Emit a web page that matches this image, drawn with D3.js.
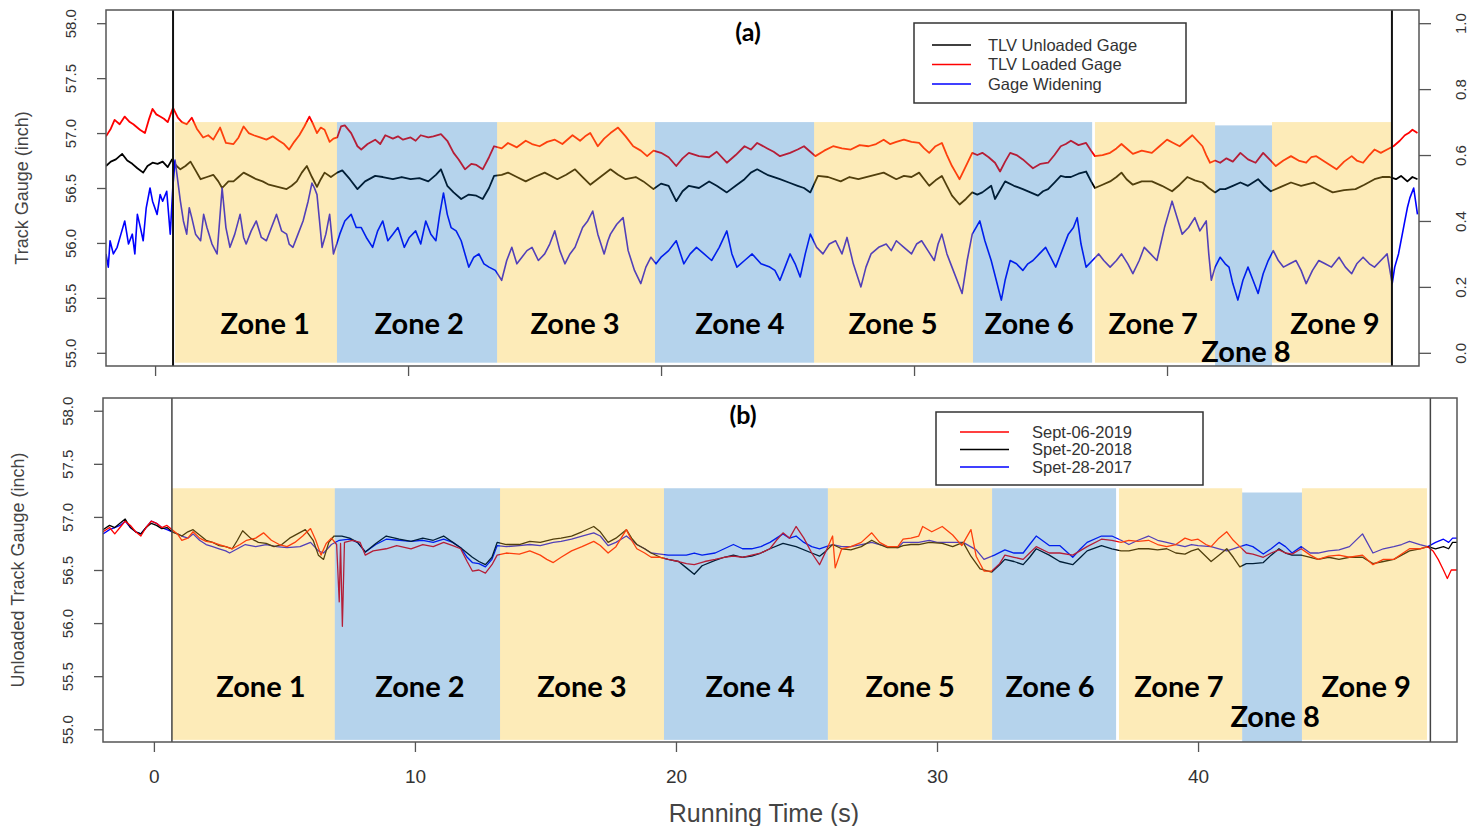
<!DOCTYPE HTML>
<html>
<head>
<meta http-equiv="Content-Type" content="text/html; charset=utf-8">
<title>Track gauge by zone</title>
<style>
	body { margin:0; background:#fff; }
	.tick text { font-family:"Liberation Sans", Arial, sans-serif; fill:#333; }
	.tick line { stroke:#555; stroke-width:1.3; }
	.zoneLabel { font-family:Lato, "Open Sans", sans-serif; font-weight:bold; font-size:29px; text-anchor:middle; fill:#000; }
	.legendText { font-family:"Liberation Sans", Arial, sans-serif; font-size:16.5px; fill:#333; }
	.axisTitle { font-family:"Liberation Sans", Arial, sans-serif; fill:#444; text-anchor:middle; }
	.panelTitle { font-family:Lato, "Open Sans", sans-serif; font-weight:bold; font-size:25px; text-anchor:middle; fill:#000; }
</style>
<script src="https://cdnjs.cloudflare.com/ajax/libs/d3/7.8.5/d3.min.js"></script>
</head>
<body>
<script>
// ---- panel (a) : TLV gauges, [time s, inch] ; widening on right axis [time s, ratio]
var unloadedGage=[[-1.94,56.7],[-1.75,56.74],[-1.55,56.76],[-1.3,56.81],[-1.1,56.75],[-0.9,56.72],[-0.7,56.68],[-0.47,56.64],[-0.3,56.7],[-0.1,56.73],[0.1,56.72],[0.3,56.74],[0.5,56.69],[0.67,56.76],[0.85,56.7],[1.0,56.67],[1.2,56.7],[1.4,56.74],[1.6,56.66],[1.8,56.58],[2.05,56.6],[2.3,56.62],[2.5,56.56],[2.65,56.5],[2.9,56.56],[3.1,56.56],[3.3,56.6],[3.5,56.64],[3.75,56.61],[4.0,56.58],[4.25,56.56],[4.5,56.53],[4.85,56.51],[5.2,56.49],[5.4,56.52],[5.6,56.56],[5.8,56.64],[6.0,56.7],[6.2,56.6],[6.4,56.51],[6.55,56.58],[6.7,56.64],[6.95,56.6],[7.2,56.64],[7.4,56.66],[7.7,56.58],[8.0,56.49],[8.3,56.56],[8.7,56.61],[9.0,56.6],[9.4,56.58],[9.75,56.6],[10.1,56.58],[10.45,56.59],[10.8,56.56],[11.1,56.62],[11.3,56.67],[11.55,56.52],[11.8,56.46],[12.1,56.4],[12.4,56.44],[12.7,56.43],[12.95,56.4],[13.2,56.5],[13.4,56.61],[13.7,56.62],[13.95,56.64],[14.3,56.6],[14.65,56.56],[15.0,56.6],[15.4,56.64],[15.9,56.58],[16.25,56.62],[16.6,56.67],[16.9,56.6],[17.2,56.53],[17.6,56.6],[18.0,56.67],[18.3,56.62],[18.6,56.58],[19.0,56.6],[19.3,56.56],[19.7,56.49],[20.0,56.54],[20.3,56.52],[20.6,56.38],[20.85,56.47],[21.1,56.52],[21.5,56.5],[21.9,56.56],[22.2,56.52],[22.6,56.46],[22.95,56.52],[23.3,56.58],[23.55,56.64],[23.8,56.67],[24.2,56.62],[24.7,56.58],[25.05,56.55],[25.4,56.52],[25.65,56.5],[25.9,56.46],[26.2,56.61],[26.6,56.6],[27.1,56.56],[27.45,56.6],[27.8,56.58],[28.3,56.61],[28.8,56.64],[29.3,56.58],[29.6,56.61],[29.9,56.6],[30.2,56.64],[30.4,56.58],[30.6,56.52],[30.85,56.57],[31.1,56.61],[31.3,56.52],[31.5,56.43],[31.8,56.35],[32.05,56.4],[32.3,56.46],[32.5,56.44],[32.7,56.46],[33.05,56.52],[33.2,56.4],[33.4,56.48],[33.6,56.56],[33.95,56.52],[34.3,56.49],[34.6,56.46],[34.9,56.43],[35.1,56.47],[35.3,56.49],[35.55,56.55],[35.8,56.61],[36.0,56.6],[36.2,56.6],[36.5,56.63],[36.8,56.65],[37.0,56.56],[37.15,56.5],[37.45,56.53],[37.75,56.56],[38.0,56.6],[38.2,56.64],[38.4,56.58],[38.65,56.53],[39.0,56.56],[39.4,56.56],[39.8,56.52],[40.2,56.47],[40.5,56.53],[40.8,56.6],[41.1,56.57],[41.4,56.55],[41.65,56.5],[41.9,56.46],[42.1,56.49],[42.3,56.49],[42.6,56.52],[42.9,56.55],[43.2,56.52],[43.6,56.58],[43.85,56.52],[44.1,56.47],[44.5,56.51],[44.9,56.55],[45.3,56.52],[45.8,56.55],[46.2,56.5],[46.55,56.46],[47.0,56.48],[47.45,56.49],[47.8,56.53],[48.2,56.58],[48.5,56.6],[48.8,56.6],[49.05,56.58],[49.25,56.61],[49.5,56.56],[49.7,56.6],[49.9,56.58]];

var loadedGage=[[-1.94,56.97],[-1.75,57.04],[-1.6,57.12],[-1.4,57.08],[-1.2,57.15],[-1.0,57.1],[-0.86,57.08],[-0.6,57.03],[-0.4,57.0],[-0.25,57.12],[-0.1,57.22],[0.05,57.17],[0.2,57.15],[0.35,57.13],[0.5,57.1],[0.71,57.23],[0.9,57.14],[1.06,57.1],[1.25,57.08],[1.45,57.14],[1.65,57.04],[1.9,56.96],[2.1,56.98],[2.3,56.94],[2.57,57.05],[2.8,56.91],[3.1,56.9],[3.3,56.96],[3.5,57.06],[3.7,57.0],[3.9,56.98],[4.15,56.96],[4.4,56.94],[4.65,56.97],[4.9,56.93],[5.1,56.9],[5.3,56.85],[5.5,56.92],[5.7,56.98],[5.9,57.06],[6.1,57.15],[6.25,57.08],[6.4,57.0],[6.55,57.05],[6.7,57.03],[6.9,56.92],[7.05,56.95],[7.2,56.96],[7.35,57.06],[7.5,57.07],[7.75,57.0],[8.0,56.88],[8.15,56.85],[8.4,56.9],[8.7,56.94],[8.9,56.9],[9.1,56.98],[9.4,56.95],[9.6,56.97],[9.8,56.94],[10.1,56.96],[10.3,56.93],[10.5,56.98],[10.8,56.96],[11.0,56.97],[11.3,56.99],[11.55,56.93],[11.8,56.82],[12.0,56.76],[12.25,56.67],[12.5,56.72],[12.7,56.71],[12.95,56.67],[13.2,56.78],[13.4,56.88],[13.7,56.86],[13.95,56.91],[14.3,56.87],[14.65,56.93],[14.9,56.9],[15.2,56.88],[15.5,56.92],[15.8,56.94],[16.1,56.9],[16.5,56.98],[16.8,56.93],[17.0,56.97],[17.2,57.0],[17.35,56.94],[17.5,56.88],[17.75,56.95],[18.0,57.0],[18.3,57.05],[18.6,56.97],[18.9,56.88],[19.2,56.84],[19.45,56.79],[19.7,56.84],[20.0,56.82],[20.3,56.78],[20.6,56.7],[20.85,56.77],[21.1,56.82],[21.5,56.79],[21.9,56.78],[22.2,56.83],[22.6,56.73],[22.95,56.8],[23.3,56.88],[23.55,56.85],[23.8,56.91],[24.2,56.86],[24.45,56.83],[24.7,56.79],[25.1,56.82],[25.4,56.85],[25.65,56.88],[25.9,56.83],[26.1,56.79],[26.45,56.84],[26.8,56.88],[27.15,56.86],[27.5,56.85],[27.85,56.89],[28.2,56.88],[28.5,56.9],[28.8,56.94],[29.05,56.9],[29.3,56.92],[29.6,56.94],[29.9,56.92],[30.2,56.91],[30.4,56.86],[30.6,56.82],[30.85,56.88],[31.1,56.91],[31.3,56.8],[31.5,56.7],[31.65,56.64],[31.8,56.58],[32.05,56.7],[32.3,56.82],[32.5,56.8],[32.7,56.82],[32.95,56.78],[33.2,56.73],[33.4,56.65],[33.6,56.74],[33.8,56.82],[34.05,56.8],[34.3,56.76],[34.5,56.72],[34.7,56.68],[35.0,56.72],[35.3,56.73],[35.55,56.8],[35.8,56.88],[36.0,56.9],[36.2,56.93],[36.5,56.89],[36.8,56.91],[37.0,56.84],[37.15,56.79],[37.45,56.8],[37.75,56.82],[38.0,56.86],[38.2,56.9],[38.45,56.85],[38.65,56.81],[39.0,56.84],[39.4,56.82],[39.7,56.88],[40.0,56.94],[40.25,56.91],[40.5,56.88],[40.75,56.93],[41.0,56.98],[41.2,56.93],[41.4,56.88],[41.55,56.8],[41.7,56.73],[41.9,56.75],[42.1,56.73],[42.35,56.77],[42.6,56.74],[42.9,56.82],[43.2,56.76],[43.5,56.73],[43.8,56.82],[44.05,56.76],[44.3,56.7],[44.6,56.75],[44.9,56.79],[45.2,56.75],[45.5,56.73],[45.7,56.78],[45.9,56.79],[46.3,56.73],[46.7,56.67],[47.0,56.74],[47.3,56.79],[47.5,56.75],[47.75,56.73],[48.0,56.8],[48.2,56.85],[48.45,56.82],[48.7,56.85],[48.95,56.88],[49.2,56.93],[49.4,56.98],[49.55,57.0],[49.7,57.03],[49.9,57.0]];

var gageWidening=[[-1.94,0.30],[-1.85,0.26],[-1.78,0.34],[-1.65,0.30],[-1.5,0.32],[-1.35,0.36],[-1.2,0.40],[-1.05,0.33],[-0.9,0.36],[-0.8,0.30],[-0.7,0.42],[-0.58,0.38],[-0.47,0.34],[-0.35,0.44],[-0.2,0.50],[-0.1,0.46],[0.08,0.42],[0.2,0.48],[0.3,0.46],[0.46,0.49],[0.6,0.36],[0.7,0.5],[0.79,0.585],[0.9,0.52],[1.0,0.46],[1.12,0.4],[1.25,0.36],[1.35,0.44],[1.45,0.41],[1.6,0.36],[1.8,0.34],[1.92,0.42],[2.05,0.38],[2.25,0.33],[2.45,0.30],[2.55,0.4],[2.65,0.50],[2.8,0.38],[2.96,0.32],[3.15,0.36],[3.36,0.42],[3.5,0.35],[3.6,0.33],[3.8,0.37],[4.0,0.40],[4.2,0.35],[4.4,0.34],[4.6,0.38],[4.8,0.42],[5.0,0.37],[5.2,0.36],[5.3,0.33],[5.45,0.32],[5.65,0.36],[5.85,0.40],[6.05,0.46],[6.2,0.515],[6.3,0.5],[6.4,0.48],[6.5,0.4],[6.6,0.32],[6.75,0.36],[6.9,0.42],[7.05,0.30],[7.18,0.33],[7.3,0.36],[7.5,0.4],[7.75,0.42],[7.95,0.38],[8.15,0.38],[8.35,0.35],[8.6,0.32],[8.8,0.37],[9.0,0.40],[9.2,0.34],[9.4,0.36],[9.6,0.38],[9.85,0.32],[10.05,0.35],[10.3,0.37],[10.5,0.33],[10.7,0.40],[10.9,0.36],[11.1,0.34],[11.25,0.42],[11.4,0.485],[11.55,0.42],[11.7,0.38],[11.9,0.37],[12.1,0.34],[12.25,0.3],[12.4,0.26],[12.6,0.29],[12.8,0.30],[13.0,0.27],[13.2,0.26],[13.45,0.25],[13.7,0.22],[13.9,0.28],[14.1,0.32],[14.3,0.27],[14.5,0.29],[14.7,0.31],[14.9,0.32],[15.15,0.28],[15.4,0.30],[15.6,0.33],[15.8,0.37],[16.0,0.31],[16.2,0.27],[16.4,0.3],[16.6,0.32],[16.9,0.38],[17.1,0.4],[17.3,0.43],[17.5,0.36],[17.75,0.30],[17.9,0.34],[18.0,0.36],[18.25,0.39],[18.5,0.41],[18.7,0.31],[18.95,0.25],[19.2,0.21],[19.4,0.26],[19.6,0.29],[19.8,0.27],[20.0,0.29],[20.3,0.31],[20.6,0.34],[20.9,0.27],[21.15,0.3],[21.4,0.32],[21.7,0.3],[22.0,0.28],[22.3,0.32],[22.6,0.37],[22.8,0.3],[23.0,0.26],[23.3,0.28],[23.6,0.30],[23.95,0.27],[24.3,0.26],[24.5,0.25],[24.7,0.22],[24.9,0.26],[25.1,0.30],[25.3,0.27],[25.5,0.23],[25.7,0.3],[25.9,0.36],[26.15,0.32],[26.4,0.30],[26.65,0.33],[26.9,0.34],[27.15,0.3],[27.35,0.35],[27.6,0.27],[27.9,0.20],[28.1,0.26],[28.3,0.30],[28.6,0.32],[28.9,0.33],[29.1,0.31],[29.3,0.34],[29.6,0.32],[29.9,0.30],[30.1,0.33],[30.3,0.34],[30.55,0.31],[30.8,0.28],[30.95,0.33],[31.1,0.36],[31.3,0.3],[31.5,0.26],[31.7,0.22],[31.9,0.18],[32.1,0.28],[32.3,0.36],[32.45,0.38],[32.6,0.40],[32.8,0.34],[33.05,0.28],[33.25,0.22],[33.45,0.16],[33.6,0.22],[33.8,0.28],[34.05,0.27],[34.3,0.25],[34.5,0.27],[34.7,0.28],[34.95,0.3],[35.2,0.32],[35.4,0.29],[35.6,0.26],[35.85,0.31],[36.1,0.36],[36.3,0.38],[36.45,0.41],[36.6,0.33],[36.8,0.26],[37.05,0.28],[37.3,0.30],[37.5,0.28],[37.75,0.26],[38.0,0.28],[38.2,0.30],[38.45,0.27],[38.65,0.24],[38.9,0.28],[39.1,0.32],[39.35,0.3],[39.6,0.28],[39.75,0.33],[39.9,0.38],[40.05,0.42],[40.2,0.46],[40.4,0.41],[40.6,0.36],[40.85,0.38],[41.1,0.41],[41.3,0.37],[41.55,0.40],[41.65,0.3],[41.75,0.22],[41.9,0.26],[42.1,0.29],[42.3,0.27],[42.45,0.26],[42.6,0.21],[42.8,0.16],[43.0,0.22],[43.2,0.26],[43.4,0.22],[43.6,0.18],[43.8,0.24],[44.0,0.28],[44.2,0.31],[44.4,0.28],[44.6,0.26],[44.85,0.27],[45.1,0.28],[45.3,0.25],[45.5,0.21],[45.75,0.25],[46.0,0.28],[46.25,0.27],[46.5,0.26],[46.8,0.29],[47.05,0.26],[47.3,0.24],[47.5,0.27],[47.75,0.29],[48.0,0.27],[48.2,0.26],[48.45,0.28],[48.7,0.30],[48.9,0.21],[49.0,0.26],[49.15,0.3],[49.3,0.36],[49.4,0.4],[49.5,0.44],[49.6,0.47],[49.75,0.50],[49.9,0.42]];

// ---- panel (b) : unloaded gauge for three survey dates, [time s, inch]
var sept2019=[[-1.95,56.86],[-1.7,56.9],[-1.5,56.84],[-1.3,56.9],[-1.1,56.96],[-0.9,56.92],[-0.7,56.86],[-0.5,56.82],[-0.3,56.9],[-0.1,56.96],[0.1,56.94],[0.3,56.9],[0.5,56.92],[0.7,56.88],[0.9,56.84],[1.07,56.78],[1.3,56.8],[1.5,56.86],[1.75,56.8],[2.0,56.77],[2.25,56.76],[2.5,56.74],[2.75,56.72],[3.0,56.7],[3.3,56.74],[3.55,56.78],[3.9,56.8],[4.2,56.85],[4.5,56.78],[4.8,56.74],[5.1,56.72],[5.4,56.76],[5.7,56.82],[6.0,56.89],[6.2,56.78],[6.4,56.64],[6.6,56.75],[6.8,56.8],[7.0,56.74],[7.1,56.2],[7.15,56.75],[7.22,55.97],[7.3,56.76],[7.6,56.78],[7.9,56.76],[8.1,56.64],[8.4,56.68],[8.9,56.7],[9.3,56.73],[9.85,56.7],[10.3,56.74],[10.7,56.72],[11.1,56.76],[11.45,56.73],[11.75,56.7],[12.0,56.58],[12.2,56.49],[12.45,56.5],[12.7,56.47],[12.95,56.55],[13.15,56.64],[13.5,56.66],[14.0,56.65],[14.4,56.68],[14.8,56.64],[15.05,56.6],[15.3,56.57],[15.6,56.62],[16.0,56.68],[16.4,56.72],[16.85,56.77],[17.1,56.73],[17.4,56.66],[17.7,56.72],[18.1,56.88],[18.3,56.78],[18.5,56.7],[18.8,56.66],[19.05,56.62],[19.4,56.62],[19.7,56.6],[20.1,56.58],[20.4,56.56],[20.7,56.55],[21.1,56.58],[21.5,56.6],[21.85,56.62],[22.2,56.63],[22.55,56.62],[22.9,56.64],[23.25,56.66],[23.6,56.7],[23.85,56.78],[24.1,56.85],[24.35,56.8],[24.6,56.91],[24.9,56.8],[25.2,56.66],[25.5,56.55],[25.75,56.68],[26.0,56.82],[26.1,56.52],[26.35,56.7],[26.7,56.72],[27.1,56.76],[27.5,56.85],[27.8,56.76],[28.1,56.72],[28.5,56.72],[28.7,56.79],[29.0,56.8],[29.3,56.82],[29.45,56.91],[29.8,56.86],[30.2,56.91],[30.6,56.83],[30.95,56.73],[31.3,56.88],[31.5,56.63],[31.8,56.49],[32.1,56.49],[32.4,56.56],[32.6,56.64],[32.95,56.62],[33.3,56.6],[33.55,56.66],[33.8,56.72],[34.3,56.66],[34.7,56.66],[35.2,56.64],[35.75,56.72],[36.3,56.79],[36.7,56.78],[37.05,56.76],[37.35,56.78],[37.7,56.77],[38.1,56.78],[38.45,56.74],[38.8,56.72],[39.15,56.74],[39.5,56.8],[39.75,56.78],[40.0,56.79],[40.3,56.74],[40.5,56.72],[40.8,56.8],[41.1,56.86],[41.35,56.78],[41.6,56.72],[41.85,56.66],[42.1,56.65],[42.5,56.62],[42.8,56.66],[43.1,56.69],[43.35,56.66],[43.6,56.65],[43.95,56.7],[44.3,56.64],[44.6,56.6],[45.0,56.63],[45.4,56.64],[45.8,56.62],[46.3,56.64],[46.7,56.55],[47.1,56.6],[47.5,56.6],[47.8,56.65],[48.1,56.7],[48.5,56.7],[48.8,56.72],[49.0,56.68],[49.2,56.6],[49.4,56.5],[49.55,56.42],[49.7,56.5],[49.93,56.5]];

var spet2018=[[-1.95,56.88],[-1.7,56.92],[-1.5,56.9],[-1.3,56.94],[-1.1,56.98],[-0.9,56.9],[-0.7,56.86],[-0.5,56.84],[-0.3,56.9],[-0.1,56.94],[0.1,56.92],[0.3,56.89],[0.5,56.9],[0.7,56.86],[0.9,56.84],[1.07,56.82],[1.3,56.86],[1.5,56.88],[1.75,56.83],[2.0,56.78],[2.25,56.76],[2.5,56.73],[2.75,56.72],[3.0,56.7],[3.2,56.78],[3.4,56.87],[3.7,56.8],[4.0,56.76],[4.3,56.75],[4.6,56.72],[4.9,56.74],[5.2,56.8],[5.5,56.84],[5.8,56.88],[6.1,56.78],[6.3,56.64],[6.5,56.6],[6.7,56.76],[6.9,56.82],[7.2,56.82],[7.5,56.8],[7.8,56.76],[8.1,56.67],[8.5,56.75],[8.9,56.82],[9.4,56.79],[9.85,56.77],[10.3,56.8],[10.7,56.78],[11.1,56.82],[11.45,56.76],[11.75,56.71],[12.0,56.66],[12.2,56.62],[12.45,56.58],[12.7,56.55],[12.95,56.62],[13.15,56.76],[13.5,56.74],[14.0,56.74],[14.4,56.77],[14.8,56.76],[15.3,56.79],[15.6,56.8],[16.0,56.82],[16.4,56.86],[16.85,56.91],[17.1,56.86],[17.4,56.76],[17.7,56.8],[18.1,56.88],[18.3,56.8],[18.5,56.74],[18.8,56.7],[19.05,56.66],[19.4,56.62],[19.7,56.6],[20.1,56.58],[20.4,56.52],[20.7,56.46],[21.0,56.54],[21.5,56.59],[21.85,56.62],[22.2,56.64],[22.55,56.62],[22.9,56.63],[23.25,56.66],[23.6,56.7],[24.1,56.75],[24.6,56.72],[25.2,56.66],[25.5,56.63],[25.75,56.68],[26.0,56.74],[26.35,56.7],[26.7,56.69],[27.1,56.72],[27.5,56.78],[27.8,56.74],[28.1,56.71],[28.5,56.71],[28.7,56.73],[29.0,56.74],[29.3,56.74],[29.7,56.76],[30.2,56.75],[30.6,56.72],[31.0,56.76],[31.3,56.63],[31.65,56.51],[32.1,56.48],[32.4,56.55],[32.6,56.6],[32.95,56.58],[33.3,56.55],[33.55,56.62],[33.8,56.7],[34.3,56.64],[34.7,56.58],[35.2,56.55],[35.5,56.62],[35.75,56.68],[36.3,56.73],[36.7,56.7],[37.05,56.68],[37.35,56.68],[37.7,56.7],[38.1,56.7],[38.45,56.69],[38.8,56.7],[39.15,56.66],[39.5,56.65],[39.75,56.68],[40.0,56.7],[40.5,56.58],[40.8,56.64],[41.1,56.7],[41.35,56.62],[41.6,56.53],[41.85,56.56],[42.1,56.56],[42.5,56.57],[42.8,56.64],[43.1,56.7],[43.35,56.66],[43.6,56.64],[43.95,56.64],[44.3,56.62],[44.6,56.6],[45.0,56.62],[45.4,56.6],[45.8,56.62],[46.3,56.62],[46.7,56.56],[47.1,56.58],[47.5,56.6],[47.8,56.64],[48.1,56.68],[48.5,56.7],[48.8,56.72],[49.1,56.7],[49.4,56.72],[49.6,56.7],[49.75,56.76],[49.93,56.76]];

var spet2017=[[-1.95,56.84],[-1.7,56.88],[-1.5,56.9],[-1.3,56.92],[-1.1,56.96],[-0.9,56.9],[-0.7,56.86],[-0.5,56.84],[-0.3,56.9],[-0.1,56.96],[0.1,56.94],[0.3,56.9],[0.5,56.88],[0.7,56.86],[0.9,56.84],[1.07,56.82],[1.3,56.8],[1.5,56.84],[1.75,56.78],[2.0,56.74],[2.25,56.72],[2.5,56.7],[2.75,56.68],[2.9,56.66],[3.2,56.7],[3.5,56.74],[3.9,56.72],[4.3,56.74],[4.7,56.72],[5.1,56.71],[5.6,56.72],[6.0,56.76],[6.3,56.68],[6.5,56.66],[6.8,56.74],[7.1,56.78],[7.5,56.79],[7.8,56.76],[8.1,56.67],[8.5,56.74],[8.9,56.79],[9.4,56.78],[9.85,56.77],[10.3,56.78],[10.7,56.76],[11.1,56.79],[11.45,56.76],[11.75,56.71],[12.0,56.62],[12.2,56.57],[12.45,56.56],[12.7,56.53],[12.95,56.6],[13.15,56.73],[13.5,56.72],[14.0,56.73],[14.4,56.74],[14.8,56.73],[15.3,56.76],[15.6,56.77],[16.0,56.79],[16.4,56.82],[16.85,56.85],[17.1,56.82],[17.4,56.73],[17.7,56.76],[18.1,56.82],[18.3,56.78],[18.5,56.74],[18.8,56.7],[19.05,56.66],[19.4,56.65],[19.7,56.64],[20.1,56.64],[20.4,56.64],[20.7,56.66],[21.0,56.64],[21.5,56.66],[21.85,56.7],[22.2,56.74],[22.55,56.7],[22.9,56.7],[23.25,56.72],[23.6,56.76],[24.1,56.84],[24.35,56.8],[24.6,56.82],[24.9,56.76],[25.2,56.72],[25.5,56.7],[25.75,56.72],[26.0,56.74],[26.35,56.72],[26.7,56.72],[27.1,56.74],[27.5,56.76],[27.8,56.74],[28.1,56.72],[28.5,56.71],[28.7,56.76],[29.0,56.76],[29.3,56.76],[29.7,56.78],[30.0,56.76],[30.5,56.76],[31.0,56.76],[31.5,56.69],[31.8,56.6],[32.2,56.64],[32.6,56.69],[32.95,56.66],[33.3,56.66],[33.55,56.74],[33.8,56.82],[34.3,56.73],[34.7,56.73],[35.2,56.62],[35.5,56.7],[35.75,56.76],[36.3,56.82],[36.7,56.82],[37.05,56.78],[37.35,56.74],[37.7,56.78],[38.1,56.82],[38.45,56.78],[38.8,56.76],[39.15,56.74],[39.5,56.72],[39.75,56.74],[40.0,56.73],[40.5,56.72],[40.8,56.7],[41.1,56.68],[41.35,56.7],[41.6,56.72],[41.85,56.74],[42.1,56.72],[42.5,56.65],[42.8,56.7],[43.1,56.76],[43.35,56.72],[43.6,56.66],[43.95,56.72],[44.3,56.66],[44.6,56.66],[45.0,56.68],[45.4,56.69],[45.8,56.72],[46.3,56.84],[46.7,56.66],[47.1,56.7],[47.5,56.72],[47.8,56.74],[48.1,56.77],[48.5,56.74],[48.8,56.72],[49.1,56.76],[49.4,56.79],[49.6,56.76],[49.75,56.8],[49.93,56.8]];

// ---- zones (seconds); both panels were drawn by hand so they differ a little
var zoneNames=["Zone 1","Zone 2","Zone 3","Zone 4","Zone 5","Zone 6","Zone 7","Zone 8","Zone 9"];
var zoneStartA=[0.79,7.19,13.52,19.76,26.05,32.33,37.15,41.9,44.15];
var zoneEndA=[7.19,13.52,19.76,26.05,32.33,37.04,41.9,44.15,48.89];
var zoneTopA=[57.1,57.1,57.1,57.1,57.1,57.1,57.1,57.07,57.1];
var zoneBottomA=[54.91,54.91,54.91,54.91,54.91,54.91,54.91,54.88,54.91];
var zoneLabelXA=[4.35,10.44,16.6,23.12,29.17,34.55,39.45,43.12,46.64];
var zoneLabelYA=[55.27,55.27,55.27,55.27,55.27,55.27,55.27,55.01,55.27];

var zoneStartB=[0.69,6.93,13.26,19.54,25.82,32.11,36.97,41.69,43.98];
var zoneEndB=[6.93,13.26,19.54,25.82,32.11,36.86,41.69,43.98,48.77];
var zoneTopB=[57.27,57.27,57.27,57.27,57.27,57.27,57.27,57.23,57.27];
var zoneBottomB=[54.9,54.9,54.9,54.9,54.9,54.9,54.9,54.88,54.9];
var zoneLabelXB=[4.1,10.19,16.4,22.84,28.97,34.33,39.27,42.95,46.44];
var zoneLabelYB=[55.4,55.4,55.4,55.4,55.4,55.4,55.4,55.12,55.4];

var markerLinesA=[0.71,48.89];
var markerLinesB=[0.69,48.9];

var xTicks=[0,10,20,30,40];
var yTicks=[55,55.5,56,56.5,57,57.5,58];
var y2Ticks=[0,0.2,0.4,0.6,0.8,1.0];

var legendA=["TLV Unloaded Gage","TLV Loaded Gage","Gage Widening"];
var legendB=["Sept-06-2019","Spet-20-2018","Spet-28-2017"];
</script>
<script>
	var width=1481, height=826;
	var zoneFill=["rgba(250,194,40,0.33)","rgba(0,103,190,0.29)"]; // yellow / blue overlay
	var svg=d3.select('body').append('svg').attr('width',width).attr('height',height);
	svg.append('rect').attr('width',width).attr('height',height).attr('fill','#fff');

	var boxA={left:106,right:1419,top:10,bottom:366};
	var boxB={left:103,right:1457,top:398,bottom:742};

	var xA=d3.scaleLinear().domain([-1.94,49.96]).range([boxA.left,boxA.right]);
	var yA=d3.scaleLinear().domain([54.88,58.12]).range([boxA.bottom,boxA.top]);
	var yA2=d3.scaleLinear().domain([-0.04,1.04]).range([boxA.bottom,boxA.top]);
	var xB=d3.scaleLinear().domain([-1.95,49.92]).range([boxB.left,boxB.right]);
	var yB=d3.scaleLinear().domain([54.88,58.12]).range([boxB.bottom,boxB.top]);

	function addClip(id,box){
		svg.append('clipPath').attr('id',id).append('rect')
			.attr('x',box.left).attr('y',box.top)
			.attr('width',box.right-box.left).attr('height',box.bottom-box.top);
	}
	addClip('clipA',boxA);
	addClip('clipB',boxB);

	function drawPanel(p){
		var g=svg.append('g');
		var lines=g.append('g').attr('clip-path','url(#'+p.clip+')');
		p.series.forEach(function(s){
			var gen=d3.line().x(function(d){return p.x(d[0]);}).y(function(d){return s.y(d[1]);});
			lines.append('path').attr('d',gen(s.data))
				.attr('fill','none').attr('stroke',s.color)
				.attr('stroke-width',s.w).attr('stroke-linejoin','round');
		});
		// zone overlays sit on top of the lines (that is why the lines change tint)
		g.selectAll('rect.zone').data(zoneNames).enter().append('rect')
			.attr('class','zone')
			.attr('x',function(d,i){return p.x(p.start[i]);})
			.attr('width',function(d,i){return p.x(p.end[i])-p.x(p.start[i]);})
			.attr('y',function(d,i){return p.y(p.top[i]);})
			.attr('height',function(d,i){return p.y(p.bottom[i])-p.y(p.top[i]);})
			.attr('fill',function(d,i){return zoneFill[i%2];});
		g.selectAll('text.zoneLabel').data(zoneNames).enter().append('text')
			.attr('class','zoneLabel')
			.attr('x',function(d,i){return p.x(p.labelX[i]);})
			.attr('y',function(d,i){return p.y(p.labelY[i]);})
			.attr('dy','0.36em')
			.text(function(d){return d;});
		p.markers.forEach(function(m){
			g.append('line').attr('x1',p.x(m)).attr('x2',p.x(m))
				.attr('y1',p.box.top).attr('y2',p.box.bottom)
				.attr('stroke',p.markerColor).attr('stroke-width',p.markerW);
		});
		g.append('rect').attr('x',p.box.left).attr('y',p.box.top)
			.attr('width',p.box.right-p.box.left).attr('height',p.box.bottom-p.box.top)
			.attr('fill','none').attr('stroke','#555').attr('stroke-width',1.5);

		// left axis, R style rotated labels
		var ya=g.append('g').attr('transform','translate('+p.box.left+',0)')
			.call(d3.axisLeft(p.y).tickValues(yTicks).tickFormat(d3.format('.1f')).tickSize(9).tickSizeOuter(0));
		ya.select('.domain').remove();
		ya.selectAll('text').attr('x',null).attr('dy',null)
			.attr('transform','translate(-36,0) rotate(-90)')
			.style('text-anchor','middle').style('dominant-baseline','central')
			.style('font-size','15px');

		var xa=g.append('g').attr('transform','translate(0,'+p.box.bottom+')')
			.call(d3.axisBottom(p.x).tickValues(xTicks).tickSize(10).tickPadding(18).tickSizeOuter(0)
				.tickFormat(p.xLabels ? d3.format('d') : function(){return '';}));
		xa.select('.domain').remove();
		xa.selectAll('text').style('font-size','19px');

		// legend
		var lg=g.append('g');
		lg.append('rect').attr('x',p.legend.x).attr('y',p.legend.y)
			.attr('width',p.legend.w).attr('height',p.legend.h)
			.attr('fill','#fff').attr('stroke','#333').attr('stroke-width',1.5);
		p.legend.names.forEach(function(n,i){
			var yy=p.legend.y+p.legend.row0+i*p.legend.step;
			lg.append('line').attr('x1',p.legend.x+p.legend.l0).attr('x2',p.legend.x+p.legend.l1)
				.attr('y1',yy).attr('y2',yy).attr('stroke',p.legend.colors[i]).attr('stroke-width',1.3);
			lg.append('text').attr('class','legendText')
				.attr('x',p.legend.x+p.legend.t0).attr('y',yy).attr('dy','0.35em').text(n);
		});

		g.append('text').attr('class','panelTitle')
			.attr('x',p.title.x).attr('y',p.title.y).attr('dy','0.36em').text(p.title.text);
		g.append('text').attr('class','axisTitle')
			.attr('transform','translate('+p.ylab.x+','+((p.box.top+p.box.bottom)/2)+') rotate(-90)')
			.attr('dy','0.36em').style('font-size','18px').text(p.ylab.text);
		return g;
	}

	var gA=drawPanel({
		clip:'clipA', box:boxA, x:xA, y:yA,
		series:[
			{data:unloadedGage, y:yA, color:'#000', w:1.8},
			{data:loadedGage, y:yA, color:'#ff0000', w:1.8},
			{data:gageWidening, y:yA2, color:'#0000ff', w:1.6}
		],
		start:zoneStartA, end:zoneEndA, top:zoneTopA, bottom:zoneBottomA,
		labelX:zoneLabelXA, labelY:zoneLabelYA,
		markers:markerLinesA, markerColor:'#111', markerW:2,
		xLabels:false,
		legend:{x:914,y:23,w:272,h:80,row0:22,step:19.5,l0:18,l1:57,t0:74,
			names:legendA, colors:['#000','#ff0000','#0000ff']},
		title:{x:748,y:32,text:'(a)'},
		ylab:{x:22,text:'Track Gauge (inch)'}
	});

	// right axis for gage widening
	var ra=gA.append('g').attr('transform','translate('+boxA.right+',0)')
		.call(d3.axisRight(yA2).tickValues(y2Ticks).tickFormat(d3.format('.1f')).tickSize(12).tickSizeOuter(0));
	ra.select('.domain').remove();
	ra.selectAll('text').attr('x',null).attr('dy',null)
		.attr('transform','translate(41,0) rotate(-90)')
		.style('text-anchor','middle').style('dominant-baseline','central')
		.style('font-size','15px');

	drawPanel({
		clip:'clipB', box:boxB, x:xB, y:yB,
		series:[
			{data:spet2017, y:yB, color:'#0000ff', w:1.3},
			{data:spet2018, y:yB, color:'#000', w:1.3},
			{data:sept2019, y:yB, color:'#ff0000', w:1.3}
		],
		start:zoneStartB, end:zoneEndB, top:zoneTopB, bottom:zoneBottomB,
		labelX:zoneLabelXB, labelY:zoneLabelYB,
		markers:markerLinesB, markerColor:'#444', markerW:1.5,
		xLabels:true,
		legend:{x:936,y:412,w:267,h:73,row0:20,step:17.5,l0:24,l1:73,t0:96,
			names:legendB, colors:['#ff0000','#000','#0000ff']},
		title:{x:743,y:415,text:'(b)'},
		ylab:{x:18,text:'Unloaded Track Gauge (inch)'}
	});

	svg.append('text').attr('class','axisTitle')
		.attr('x',764).attr('y',813).attr('dy','0.36em')
		.style('font-size','25px').text('Running Time (s)');
</script>
</body>
</html>
